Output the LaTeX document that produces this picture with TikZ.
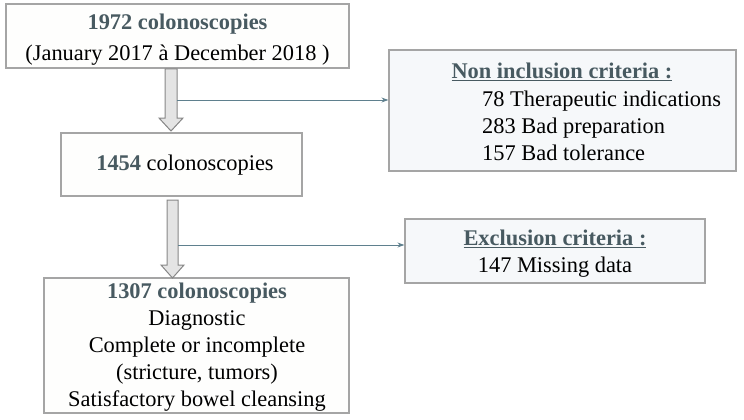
\documentclass[tikz,border=0pt]{standalone}
\usepackage{fontspec}
\setmainfont{Liberation Serif}
\usetikzlibrary{arrows.meta}
\definecolor{titlec}{RGB}{72,90,97}
\definecolor{boxline}{RGB}{165,165,165}
\definecolor{sidefill}{RGB}{246,248,250}
\definecolor{mainfill}{RGB}{254,254,253}
\definecolor{arrfill}{RGB}{228,228,228}
\definecolor{arrline}{RGB}{135,135,135}
\definecolor{connc}{RGB}{95,128,142}
\tikzset{
  mainbox/.style={draw=boxline, line width=1.4pt, fill=mainfill, inner sep=0pt},
  sidebox/.style={draw=boxline, line width=1.2pt, fill=sidefill, inner sep=0pt},
  txt/.style={inner sep=0pt, font=\fontsize{22.4}{27}\selectfont, align=center},
  blockarrow/.style={draw=arrline, line width=1pt, fill=arrfill, line join=miter},
  conn/.style={draw=connc, line width=1pt, -{Stealth[length=7pt,width=5pt]}},
}
\newcommand{\ttl}[1]{\textcolor{titlec}{\textbf{#1}}}
\newsavebox{\ulbox}
\newcommand{\myul}[1]{\sbox{\ulbox}{#1}\rlap{\usebox{\ulbox}}\rule[-3.2pt]{\wd\ulbox}{1.8pt}}
\begin{document}
\begin{tikzpicture}[x=1pt,y=-1pt]
\useasboundingbox (0,0) rectangle (744,420);
% boxes
\node[mainbox, minimum width=343pt, minimum height=64pt] (b1) at (177.5,36) {};
\node[txt] (b1t) at (177.5,24) {\ttl{1972 colonoscopies}};
\node[txt] (b1u) at (177.5,55) {(January 2017 à December 2018 )};
\node[mainbox, minimum width=241pt, minimum height=63pt] (b2) at (181.5,164.5) {};
\node[txt] (b2t) at (185,165) {\ttl{1454} colonoscopies};
\node[mainbox, minimum width=305pt, minimum height=135pt] (b3) at (196.5,345.5) {};
\node[txt] (b3t) at (197,347) {\ttl{1307 colonoscopies}\\Diagnostic\\Complete or incomplete\\(stricture, tumors)\\Satisfactory bowel cleansing};
\node[sidebox, minimum width=347pt, minimum height=121pt] (ni) at (562.5,110.5) {};
\node[txt] (nit) at (562,72) {\textcolor{titlec}{\myul{\textbf{Non inclusion criteria :}}}};
\node[txt, anchor=west, align=left] (nil) at (482,126) {78 Therapeutic indications\\283 Bad preparation\\157 Bad tolerance};
\node[sidebox, minimum width=300pt, minimum height=64pt] (ex) at (555,251) {};
\node[txt] (ext) at (555,239) {\textcolor{titlec}{\myul{\textbf{Exclusion criteria :}}}};
\node[txt] (exl) at (555,267) {147 Missing data};
% block arrows
\draw[blockarrow] (165,69) -- (177,69) -- (177,118) -- (183,118) -- (171,131) -- (159,118) -- (165,118) -- cycle;
\draw[blockarrow] (167,200) -- (178,200) -- (178,265) -- (184,265) -- (172.5,278) -- (161,265) -- (167,265) -- cycle;
% connectors
\coordinate (c1) at (177,100);
\coordinate (c2) at (178,245);
\draw[conn] (c1) -- (ni.west |- c1);
\draw[conn] (c2) -- (ex.west |- c2);
\end{tikzpicture}
\end{document}
